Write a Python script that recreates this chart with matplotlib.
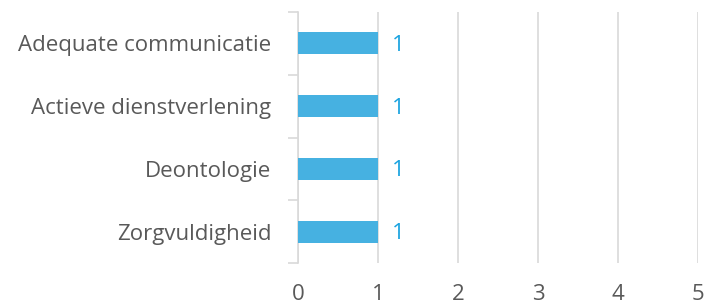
import matplotlib
matplotlib.use("Agg")
import matplotlib.pyplot as plt
import numpy as np

categories = ["Zorgvuldigheid", "Deontologie", "Actieve dienstverlening", "Adequate communicatie"]
values = [1, 1, 1, 1]
xticks = [0, 1, 2, 3, 4, 5]

plt.rcParams['font.family'] = ['Open Sans', 'DejaVu Sans']

fig = plt.figure(figsize=(7.15, 3.07), dpi=100)
ax = fig.add_axes([298/715, 1-263/307, 400/715, 251/307])

y = np.arange(len(categories))
bars = ax.barh(y, values, height=0.35, color="#46b1e1", zorder=3)
ax.set_xlim(0, 5)
ax.set_ylim(-0.5, len(categories)-0.5)
ax.set_xticks(xticks)
ax.set_xticklabels([str(t) for t in xticks], fontsize=16, color="#595959")
ax.tick_params(axis='x', length=0, pad=15)
ax.set_yticks(y)
ax.set_yticklabels(categories, fontsize=16, color="#595959")
ax.set_yticks(np.arange(len(categories)+1)-0.5, minor=True)
ax.tick_params(axis='y', which='major', length=0, pad=19)
ax.tick_params(axis='y', which='minor', length=7, width=1.2, color="#d9d9d9")
ax.grid(axis='x', color="#d9d9d9", linewidth=1.2, zorder=0)
for s in ['top', 'right', 'bottom']:
    ax.spines[s].set_visible(False)
ax.spines['left'].set_color("#d9d9d9")
ax.spines['left'].set_linewidth(1.2)
for yi, v in zip(y, values):
    ax.text(v + 0.25, yi - 0.03, str(v), va='center', ha='center', fontsize=16, color="#1aa3e0")

fig.savefig("out.png", dpi=100)
